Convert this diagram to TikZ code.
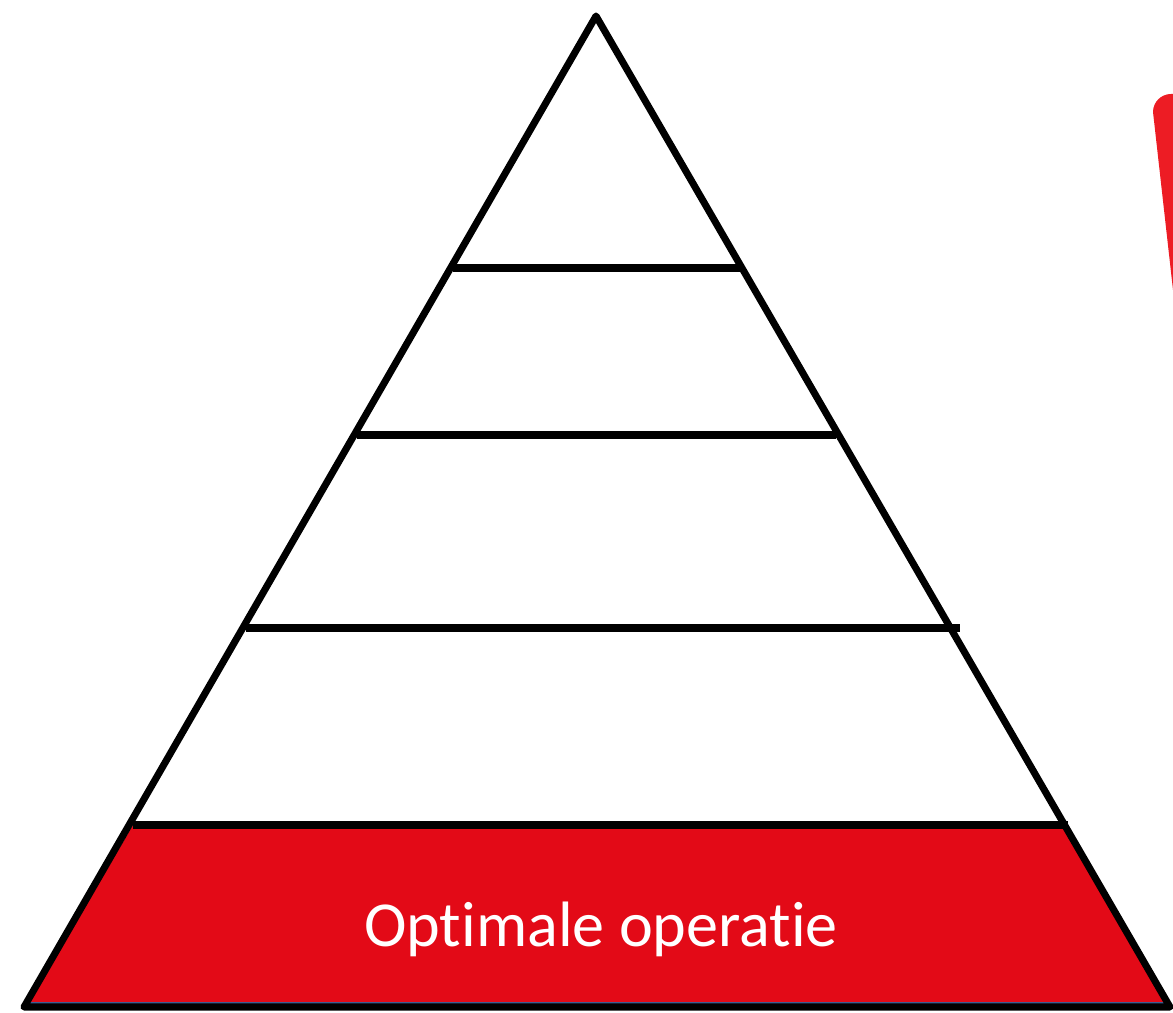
\documentclass[tikz,border=0pt]{standalone}
\usepackage{fontspec}
\setmainfont{Carlito}[Ligatures=NoCommon]
\definecolor{tierred}{HTML}{E30A17}
\definecolor{markred}{HTML}{ED1C24}
\definecolor{baseblue}{HTML}{3B5E94}
\tikzset{
	edge/.style={line width=4pt, line join=round},
	tier/.style={line width=4pt}
}

\begin{document}
\begin{tikzpicture}[x=0.02cm, y=-0.02cm]
	\useasboundingbox (0,0) rectangle (1173,1013);
	% Corners of the pyramid:
	\coordinate (apex) at (596,16);
	\coordinate (bl) at (24,1007);
	\coordinate (br) at (1170,1007);
	% Bottom tier filled:
	\fill[tierred] (133,825) -- (1068,825) -- (1168,1003) -- (28,1003) -- cycle;
	\draw[baseblue, line width=1pt] (30,1003) -- (1166,1003);
	\node[text=white, font=\fontsize{36.5}{42}\selectfont] (base) at (601,929) {Optimale operatie};
	% Outline and tiers:
	\draw[edge] (bl) -- (apex) -- (br) -- cycle;
	\draw[tier] (453,268) -- (742,268);
	\draw[tier] (357,435) -- (836,435);
	\draw[tier] (246,628) -- (960,628);
	\draw[tier] (133,825) -- (1068,825);
	% Red stroke at the edge:
	\fill[markred] (1153,112) arc[start angle=180, end angle=270, radius=18] -- (1173,94) -- (1173,290) -- cycle;
\end{tikzpicture}
\end{document}
